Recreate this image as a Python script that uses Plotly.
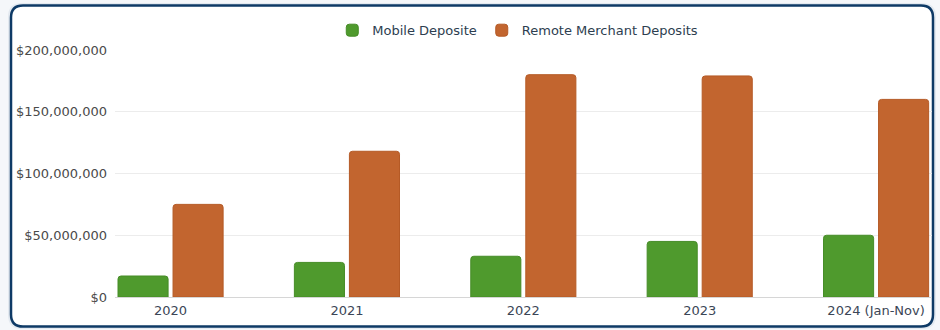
import plotly.graph_objects as go

# Deposit totals by year
years = ["2020", "2021", "2022", "2023", "2024 (Jan-Nov)"]
mobile_deposits = [17_000_000, 28_000_000, 33_000_000, 45_000_000, 50_000_000]
remote_merchant_deposits = [75_000_000, 118_000_000, 180_000_000, 179_000_000, 160_000_000]
y_ticks = [0, 50_000_000, 100_000_000, 150_000_000, 200_000_000]

W, H = 940, 330
ML, MR, MT, MB = 115, 8, 50, 33
PW, PH = W - ML - MR, H - MT - MB

FONT = "DejaVu Sans"
GREEN = "#4f9a2d"
ORANGE = "#c2652f"
NAVY = "#0e3a66"


def px_to_paper(x, y):
    return (x - ML) / PW, (H - MB - y) / PH


def rounded_rect_path(x0, y0, x1, y1, r):
    pts = []

    def p(x, y):
        px, py = px_to_paper(x, y)
        return f"{px:.5f},{py:.5f}"

    pts.append(f"M{p(x0 + r, y0)}")
    pts.append(f"L{p(x1 - r, y0)}")
    pts.append(f"Q{p(x1, y0)} {p(x1, y0 + r)}")
    pts.append(f"L{p(x1, y1 - r)}")
    pts.append(f"Q{p(x1, y1)} {p(x1 - r, y1)}")
    pts.append(f"L{p(x0 + r, y1)}")
    pts.append(f"Q{p(x0, y1)} {p(x0, y1 - r)}")
    pts.append(f"L{p(x0, y0 + r)}")
    pts.append(f"Q{p(x0, y0)} {p(x0 + r, y0)}")
    pts.append("Z")
    return " ".join(pts)


fig = go.Figure()
fig.add_trace(go.Bar(
    name="Mobile Deposite", x=years, y=mobile_deposits,
    marker=dict(color=GREEN, line=dict(color="#468c27", width=1)),
))
fig.add_trace(go.Bar(
    name="Remote Merchant Deposits", x=years, y=remote_merchant_deposits,
    marker=dict(color=ORANGE, line=dict(color="#b55a26", width=1)),
))

shapes = [
    # soft shadow around the card
    dict(type="path", xref="paper", yref="paper", layer="below",
         path=rounded_rect_path(8, 3, 936, 329, 14),
         fillcolor="#e3e9f0", line=dict(width=0)),
    # card with navy border
    dict(type="path", xref="paper", yref="paper", layer="below",
         path=rounded_rect_path(11, 5.5, 933, 326.5, 12),
         fillcolor="white", line=dict(color=NAVY, width=2.5)),
]

fig.update_layout(
    width=W, height=H,
    margin=dict(l=ML, r=MR, t=MT, b=MB, pad=0),
    paper_bgcolor="#f5f7fa",
    plot_bgcolor="rgba(0,0,0,0)",
    font=dict(family=FONT, size=13, color="#3b4656"),
    barmode="group",
    bargap=0.376,
    bargroupgap=0.09,
    barcornerradius=3,
    showlegend=True,
    legend=dict(
        orientation="h", x=0.493, xanchor="center", y=1.08, yanchor="middle",
        font=dict(family=FONT, size=13, color="#2d3e50"),
        bgcolor="rgba(0,0,0,0)", itemclick=False, traceorder="normal",
    ),
    xaxis=dict(
        type="category", range=[-0.315, 4.317],
        showgrid=False, showline=False, zeroline=False,
        ticks="", tickfont=dict(family=FONT, size=13, color="#3b4656"),
        ticklabelstandoff=4,
    ),
    yaxis=dict(
        range=[0, 200_000_000], tickvals=y_ticks, tickformat="$,.0f",
        showgrid=True, gridcolor="#ececec", gridwidth=1,
        zeroline=True, zerolinecolor="#d6d6d6", zerolinewidth=1,
        showline=False, ticks="",
        tickfont=dict(family=FONT, size=13, color="#4a4a4a"),
        ticklabelstandoff=7,
    ),
    shapes=shapes,
)

fig.write_html("out.html")
